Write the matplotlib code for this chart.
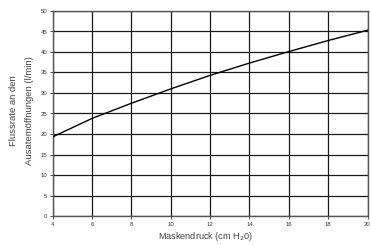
import matplotlib
matplotlib.use("Agg")
import matplotlib.pyplot as plt

plt.rcParams['font.family'] = ['Liberation Sans', 'DejaVu Sans']

pressure = [4, 6, 8, 10, 12, 14, 16, 18, 20]
flow = [19.3, 23.8, 27.5, 31.0, 34.3, 37.3, 40.1, 42.8, 45.3]
xticks = [4, 6, 8, 10, 12, 14, 16, 18, 20]
yticks = [0, 5, 10, 15, 20, 25, 30, 35, 40, 45, 50]

W, H = 370, 245
fig = plt.figure(figsize=(W/100, H/100), dpi=100)
ax = fig.add_axes([52.7/W, 1-216/H, (367.5-52.7)/W, (216-11)/H])
ax.plot(pressure, flow, color='black', lw=1.0, zorder=3)
ax.set_xlim(4, 20)
ax.set_ylim(0, 50)
ax.set_xticks(xticks)
ax.set_yticks(yticks)
ax.grid(True, color='#1a1a1a', lw=0.9)
ax.tick_params(labelsize=4.3, length=2, width=0.6, pad=2, colors='#333333')
for s in ax.spines.values():
    s.set_color('#555555')
    s.set_linewidth(1.0)
fig.text(206/W, 1-236/H, 'Maskendruck (cm H$_2$0)', ha='center', va='center', fontsize=6.6, color='#444444')
fig.text(14/W, 1-111/H, 'Flussrate an den', rotation=90, ha='center', va='center', fontsize=6.8, color='#444444')
fig.text(29/W, 1-111/H, 'Ausatemöffnungen (l/min)', rotation=90, ha='center', va='center', fontsize=6.8, color='#444444')
fig.savefig('out.png', dpi=100)
